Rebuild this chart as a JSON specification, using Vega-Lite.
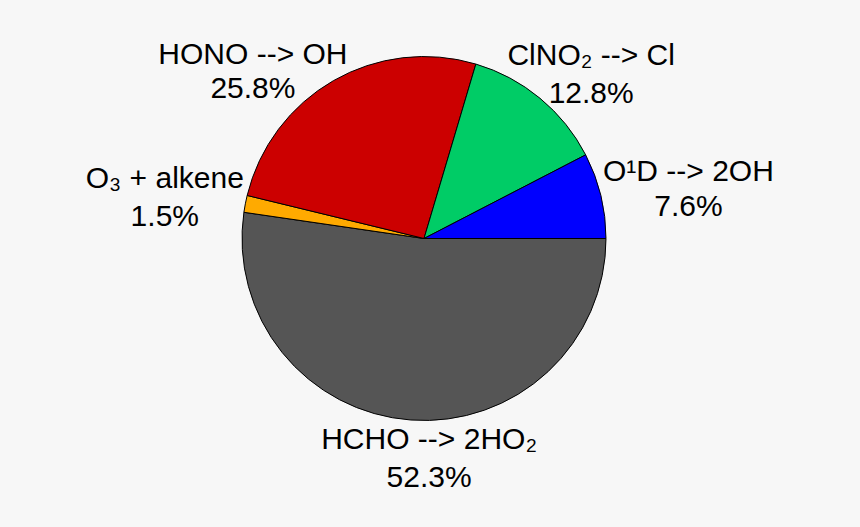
{
  "$schema": "https://vega.github.io/schema/vega-lite/v6.json",
  "autosize": "none",
  "width": 848,
  "height": 477,
  "padding": {"left": 0, "top": 0, "right": 12, "bottom": 50},
  "background": "#f7f7f7",
  "config": {"view": {"stroke": null}},
  "data": {
    "values": [
      {"name": "HCHO", "label": "HCHO --> 2HO₂", "value": 52.3, "order": 1},
      {"name": "O3", "label": "O₃ + alkene", "value": 1.5, "order": 2},
      {"name": "HONO", "label": "HONO --> OH", "value": 25.8, "order": 3},
      {"name": "ClNO2", "label": "ClNO₂ --> Cl", "value": 12.8, "order": 4},
      {"name": "O1D", "label": "O¹D --> 2OH", "value": 7.6, "order": 5}
    ]
  },
  "transform": [
    {"stack": "value", "groupby": [], "sort": [{"field": "order", "order": "ascending"}], "as": ["v0", "v1"]},
    {"calculate": "(datum.v0 + datum.v1) / 2", "as": "mid"},
    {"calculate": "datum.label + '\\n' + format(datum.value, '.1f') + '%'", "as": "text"}
  ],
  "layer": [
    {
      "mark": {"type": "arc", "radius": 182, "stroke": "black", "strokeWidth": 1},
      "encoding": {
        "theta": {"field": "v0", "type": "quantitative", "stack": null,
          "scale": {"domain": [0, 100], "range": [1.5707963, 7.8539816]}},
        "theta2": {"field": "v1"},
        "color": {
          "field": "name", "type": "nominal", "legend": null,
          "scale": {
            "domain": ["HCHO", "O3", "HONO", "ClNO2", "O1D"],
            "range": ["#555555", "#ffaa00", "#cc0000", "#00cc66", "#0000ff"]
          }
        }
      }
    },
    {
      "transform": [{"filter": "datum.name === 'HCHO'"}],
      "mark": {"type": "text", "radius": 220, "dx": 21, "dy": -18, "font": "Liberation Sans", "fontSize": 30, "lineBreak": "\n", "lineHeight": 38, "align": "center", "baseline": "middle", "color": "black"},
      "encoding": {
        "theta": {"field": "mid", "type": "quantitative", "stack": null},
        "text": {"field": "text"}
      }
    },
    {
      "transform": [{"filter": "datum.name === 'O3'"}],
      "mark": {"type": "text", "radius": 262, "dx": -2, "dy": -10, "font": "Liberation Sans", "fontSize": 30, "lineBreak": "\n", "lineHeight": 38, "align": "center", "baseline": "middle", "color": "black"},
      "encoding": {
        "theta": {"field": "mid", "type": "quantitative", "stack": null},
        "text": {"field": "text"}
      }
    },
    {
      "transform": [{"filter": "datum.name === 'HONO'"}],
      "mark": {"type": "text", "radius": 235, "dx": -54, "dy": 20, "font": "Liberation Sans", "fontSize": 30, "lineBreak": "\n", "lineHeight": 34, "align": "center", "baseline": "middle", "color": "black"},
      "encoding": {
        "theta": {"field": "mid", "type": "quantitative", "stack": null},
        "text": {"field": "text"}
      }
    },
    {
      "transform": [{"filter": "datum.name === 'ClNO2'"}],
      "mark": {"type": "text", "radius": 234, "dx": 18, "dy": -2, "font": "Liberation Sans", "fontSize": 30, "lineBreak": "\n", "lineHeight": 38, "align": "center", "baseline": "middle", "color": "black"},
      "encoding": {
        "theta": {"field": "mid", "type": "quantitative", "stack": null},
        "text": {"field": "text"}
      }
    },
    {
      "transform": [{"filter": "datum.name === 'O1D'"}],
      "mark": {"type": "text", "radius": 268, "dx": 4, "dy": -3, "font": "Liberation Sans", "fontSize": 30, "lineBreak": "\n", "lineHeight": 35, "align": "center", "baseline": "middle", "color": "black"},
      "encoding": {
        "theta": {"field": "mid", "type": "quantitative", "stack": null},
        "text": {"field": "text"}
      }
    }
  ]
}
